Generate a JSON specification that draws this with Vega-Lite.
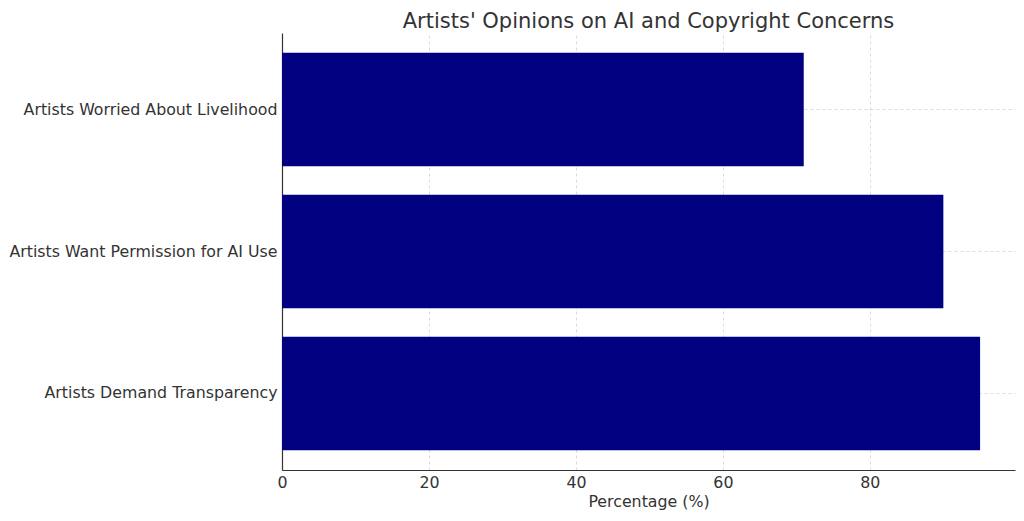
{
  "$schema": "https://vega.github.io/schema/vega-lite/v6.json",
  "autosize": "none",
  "width": 733,
  "height": 437,
  "padding": {"left": 282, "top": 33, "right": 9, "bottom": 51},
  "background": "white",
  "config": {
    "view": {"stroke": null},
    "font": "DejaVu Sans",
    "axis": {
      "labelFont": "DejaVu Sans",
      "titleFont": "DejaVu Sans",
      "labelFontSize": 15.8,
      "titleFontSize": 15.8,
      "titleFontWeight": "normal",
      "labelColor": "#333333",
      "titleColor": "#333333",
      "domainColor": "#333333",
      "domainWidth": 1.2,
      "tickSize": 0,
      "labelFlush": false,
      "gridColor": "#b0b0b0",
      "gridOpacity": 0.6,
      "gridDash": [3, 3],
      "gridWidth": 0.8,
      "zindex": 1
    }
  },
  "title": {
    "text": "Artists' Opinions on AI and Copyright Concerns",
    "fontSize": 21,
    "fontWeight": "normal",
    "font": "DejaVu Sans",
    "color": "#333333",
    "anchor": "middle",
    "baseline": "bottom",
    "offset": 2,
    "dy": 22
  },
  "data": {
    "values": [
      {"category": "Artists Worried About Livelihood", "percentage": 71},
      {"category": "Artists Want Permission for AI Use", "percentage": 90},
      {"category": "Artists Demand Transparency", "percentage": 95}
    ]
  },
  "mark": {"type": "bar", "color": "#000080"},
  "encoding": {
    "y": {
      "field": "category",
      "type": "nominal",
      "sort": null,
      "scale": {"paddingInner": 0.2, "paddingOuter": 0.14},
      "axis": {"title": null, "grid": true, "bandPosition": 0.5, "labelPadding": 5, "labelLimit": 300}
    },
    "x": {
      "field": "percentage",
      "type": "quantitative",
      "scale": {"domain": [0, 99.75], "nice": false, "zero": true},
      "axis": {"title": "Percentage (%)", "values": [0, 20, 40, 60, 80], "grid": true, "labelPadding": 5, "titlePadding": 5}
    }
  }
}
